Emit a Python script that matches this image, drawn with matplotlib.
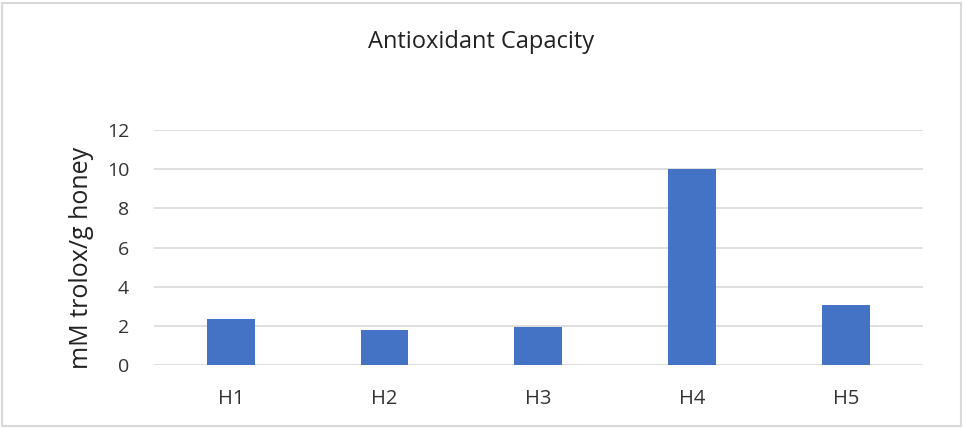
import matplotlib.pyplot as plt
from matplotlib.patches import Rectangle

plt.rcParams["font.family"] = ["Open Sans", "DejaVu Sans"]

categories = ["H1", "H2", "H3", "H4", "H5"]
values = [2.35, 1.79, 1.97, 10.0, 3.05]
y_ticks = [0, 2, 4, 6, 8, 10, 12]

fig = plt.figure(figsize=(9.63, 4.28), dpi=100)
ax = fig.add_axes([0.16, 0.147, 0.798, 0.549])

x = range(len(categories))
ax.bar(x, values, width=0.31, color="#4472C4", zorder=3)

ax.set_xlim(-0.5, len(categories) - 0.5)
ax.set_ylim(0, 12)
ax.set_yticks(y_ticks)
ax.set_xticks(list(x))
ax.set_xticklabels(categories)
ax.grid(axis="y", color="#D9D9D9", lw=1.2, zorder=0)
ax.tick_params(length=0, colors="#333333")
ax.tick_params(axis="y", labelsize=14, pad=18)
ax.tick_params(axis="x", labelsize=14.5, pad=17)
for s in ax.spines.values():
    s.set_visible(False)

fig.text(81 / 963, 1 - 258 / 428, "mM trolox/g honey", rotation=90,
         ha="center", va="center", fontsize=18, color="#222222")
fig.text(0.5, 1 - 48 / 428, "Antioxidant Capacity", ha="center", va="baseline",
         fontsize=17, color="#222222")

# chart border
fig.patches.append(Rectangle((0.002, 0.004), 0.996, 0.99, transform=fig.transFigure,
                             fill=False, edgecolor="#D9D9D9", lw=1.5))

fig.savefig("out.png", dpi=100)
